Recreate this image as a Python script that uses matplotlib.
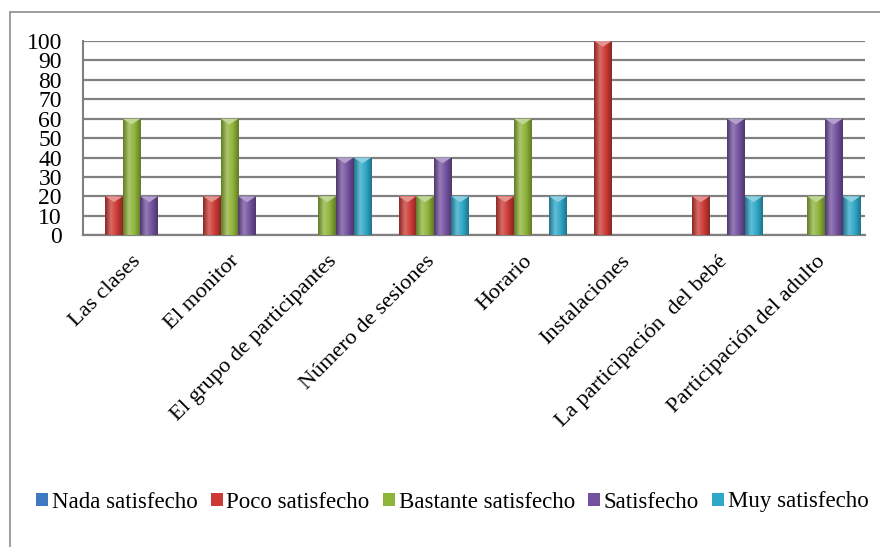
import numpy as np
import matplotlib.pyplot as plt
from matplotlib.colors import LinearSegmentedColormap, to_rgb
from matplotlib.patches import Rectangle, Polygon

# Datos
categorias = [
    "Las clases",
    "El monitor",
    "El grupo de participantes",
    "Número de sesiones",
    "Horario",
    "Instalaciones",
    "La participación  del bebé",
    "Participación del adulto",
]
series = ["Nada satisfecho", "Poco satisfecho", "Bastante satisfecho", "Satisfecho", "Muy satisfecho"]
nada = [0, 0, 0, 0, 0, 0, 0, 0]
poco = [20, 20, 0, 20, 20, 100, 20, 0]
bastante = [60, 60, 20, 20, 60, 0, 0, 20]
satisfecho = [20, 20, 40, 40, 0, 0, 60, 60]
muy = [0, 0, 40, 20, 20, 0, 20, 20]
valores = [nada, poco, bastante, satisfecho, muy]
colores = ["#3f78c2", "#cc3a35", "#8fb43a", "#7351a0", "#2fa8c8"]

plt.rcParams["font.family"] = "serif"
plt.rcParams["font.serif"] = ["Liberation Serif", "DejaVu Serif"]

fig = plt.figure(figsize=(8.8, 5.47), dpi=100)
ax = fig.add_axes([0.094, 0.570, 0.889, 0.355])

# marco exterior
fig.patches.append(Rectangle((10 / 880, -0.1), 2.0, 1 - 12 / 547 + 0.1,
                             transform=fig.transFigure, fill=False,
                             edgecolor="#8c8c8c", linewidth=1.2))

x = np.arange(len(categorias))
ancho = 0.18


def aclarar(color, f):
    return tuple(min(1, c + (1 - c) * f) for c in to_rgb(color))


def sombrear(barras, color):
    """Relleno con degradado horizontal para imitar el cilindro de Excel."""
    r, g, b = to_rgb(color)
    oscuro = (r * 0.68, g * 0.68, b * 0.68)
    claro = aclarar(color, 0.25)
    cmap = LinearSegmentedColormap.from_list("g", [oscuro, claro, color, oscuro])
    grad = np.linspace(0, 1, 64).reshape(1, -1)
    for bar in barras:
        h = bar.get_height()
        if h <= 0:
            continue
        x0, y0 = bar.get_x(), bar.get_y()
        w = bar.get_width()
        im = ax.imshow(grad, cmap=cmap, aspect="auto", extent=(x0, x0 + w, y0, y0 + h),
                       zorder=3, interpolation="bicubic")
        im.set_clip_path(bar)
        # brillo superior en forma de chevron
        ax.add_patch(Polygon([(x0, y0 + h), (x0 + w, y0 + h), (x0 + w / 2, y0 + h - 3)],
                             closed=True, facecolor=aclarar(color, 0.45), edgecolor="none",
                             zorder=4))


for i, (nombre, vals) in enumerate(zip(series, valores)):
    pos = x + (i - 2) * ancho
    barras = ax.bar(pos, vals, ancho, color=colores[i], label=nombre, zorder=3, linewidth=0)
    sombrear(barras, colores[i])

ax.set_xlim(-0.5, len(categorias) - 0.5)
ax.set_ylim(0, 100)
ax.set_yticks(range(0, 101, 10))
ax.yaxis.grid(True, color="#808080", linewidth=1.6)
ax.set_axisbelow(True)
for s in ["top", "right"]:
    ax.spines[s].set_visible(False)
ax.spines["left"].set_color("#808080")
ax.spines["left"].set_linewidth(1.5)
ax.spines["bottom"].set_color("#808080")
ax.spines["bottom"].set_linewidth(1.6)
ax.tick_params(axis="y", length=0, labelsize=17, pad=15)
ax.tick_params(axis="x", length=0, labelsize=16.2, pad=12)
ax.set_xticks(x)
ax.set_xticklabels(categorias, rotation=45, ha="right", rotation_mode="anchor")

ax.legend(loc="center", bbox_to_anchor=(0.514, 1 - 502 / 547), bbox_transform=fig.transFigure,
          ncol=5, frameon=False, fontsize=16.5, handlelength=0.52, handleheight=0.52,
          handletextpad=0.17, columnspacing=0.57, borderpad=0)

fig.savefig("out.png", dpi=100)
